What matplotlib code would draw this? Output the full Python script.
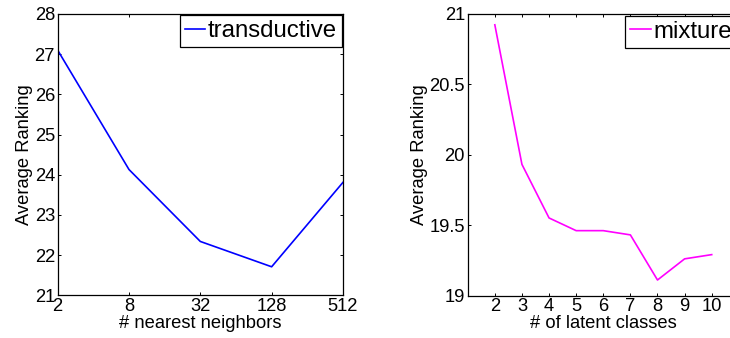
import matplotlib
matplotlib.use("Agg")
import matplotlib.pyplot as plt
from matplotlib.ticker import FixedLocator, NullLocator

plt.rcParams['font.family'] = ['Liberation Sans', 'DejaVu Sans']

# Left panel data
nn_x = [2, 8, 32, 128, 512]
nn_y = [27.1, 24.13, 22.34, 21.71, 23.81]
nn_xticks = [2, 8, 32, 128, 512]
nn_xticklabels = ['2', '8', '32', '128', '512']
nn_yticks = [21, 22, 23, 24, 25, 26, 27, 28]
nn_yticklabels = ['21', '22', '23', '24', '25', '26', '27', '28']

# Right panel data
lc_x = [2, 3, 4, 5, 6, 7, 8, 9, 10]
lc_y = [20.92, 19.93, 19.55, 19.46, 19.46, 19.43, 19.11, 19.26, 19.29]
lc_xticks = [2, 3, 4, 5, 6, 7, 8, 9, 10]
lc_xticklabels = ['2', '3', '4', '5', '6', '7', '8', '9', '10']
lc_yticks = [19, 19.5, 20, 20.5, 21]
lc_yticklabels = ['19', '19.5', '20', '20.5', '21']

fig = plt.figure(figsize=(7.30, 3.38), dpi=100)
ax1 = fig.add_axes([0.0790, 0.1263, 0.3908, 0.8323])
ax2 = fig.add_axes([0.6407, 0.1257, 0.3714, 0.8343])

TICK_FS = 13.2
LAB_FS = 13.2
LEG_FS = 17.3

def style(ax):
    for s in ax.spines.values():
        s.set_linewidth(0.9)
        s.set_color('black')
    ax.tick_params(which='major', direction='in', length=2.5, width=0.7,
                   top=True, right=True, labelsize=TICK_FS, pad=2)
    ax.tick_params(which='minor', left=False, right=False, top=False, bottom=False)

ax1.plot(nn_x, nn_y, color='#0000ff', lw=1.2, label='transductive')
ax1.set_xscale('log', base=2)
ax1.set_xlim(2, 512)
ax1.set_ylim(21, 28)
ax1.xaxis.set_major_locator(FixedLocator(nn_xticks))
ax1.xaxis.set_minor_locator(NullLocator())
ax1.set_xticklabels(nn_xticklabels)
ax1.set_yticks(nn_yticks)
ax1.set_yticklabels(nn_yticklabels)
style(ax1)
ax1.set_xlabel('# nearest neighbors', fontsize=LAB_FS, labelpad=0)
ax1.set_ylabel('Average Ranking', fontsize=LAB_FS, labelpad=1)
leg1 = ax1.legend(loc='upper right', fontsize=LEG_FS, handlelength=0.85,
                  handletextpad=0.1, borderpad=0.2, borderaxespad=0.05,
                  fancybox=False, framealpha=1, edgecolor='black')
leg1.get_frame().set_linewidth(0.9)

ax2.plot(lc_x, lc_y, color='#ff00ff', lw=1.2, label='mixture')
ax2.set_xlim(1, 11)
ax2.set_ylim(19, 21)
ax2.set_xticks(lc_xticks)
ax2.set_xticklabels(lc_xticklabels)
ax2.set_yticks(lc_yticks)
ax2.set_yticklabels(lc_yticklabels)
style(ax2)
ax2.set_xlabel('# of latent classes', fontsize=LAB_FS, labelpad=0)
ax2.set_ylabel('Average Ranking', fontsize=LAB_FS, labelpad=1)
leg2 = ax2.legend(loc='upper right', fontsize=LEG_FS, handlelength=0.85,
                  handletextpad=0.1, borderpad=0.2, borderaxespad=0.1,
                  fancybox=False, framealpha=1, edgecolor='black')
leg2.get_frame().set_linewidth(0.9)

fig.savefig('out.png', dpi=100)
